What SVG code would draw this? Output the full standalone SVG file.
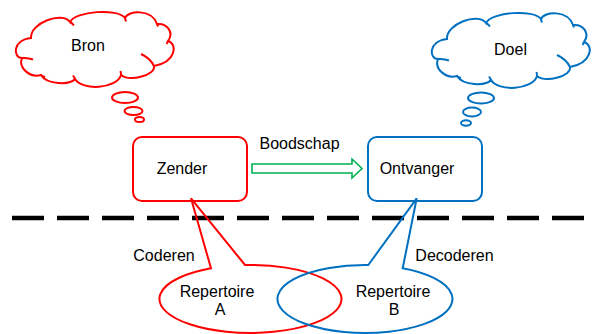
<svg xmlns="http://www.w3.org/2000/svg" width="599" height="334" viewBox="0 0 599 334">
<style>
text{font-family:"Liberation Sans",Arial,sans-serif;font-size:16px;fill:#000;text-anchor:middle}
.r{fill:none;stroke:#FF0000;stroke-width:2}
.b{fill:none;stroke:#0070C0;stroke-width:2}
.rf{fill:#fff;stroke:#FF0000;stroke-width:2}
.bf{fill:#fff;stroke:#0070C0;stroke-width:2}
</style>
<defs>
<path id="cloud" d="M22,58 C13,58 12,40 31,38 C30,23 62,11 70,22 C75,11 118,8 125,18 C128,10 152,9 157,24 C168,23 174,33 168,41 C178,44 176,62 154,66 C156,75 130,82 121,75 C117,89 82,91 75,79 C70,85 47,85 41,75 C30,78 18,68 22,58 Z"/>
<path id="stubs" d="M22,58 Q28,57.5 33,59.5 M70,22 Q72,23 74,25.5 M125,18 Q125.5,20 126,21.5 M157,24 Q157.5,25 158,26.5 M168,41 Q167.5,42.5 166.5,44 M154,66 Q150,58 141,54 M121,75 Q121,73 120.5,71 M75,79 Q74,77 73,75.5 M41,75 Q43,76.5 45,77"/>
</defs>
<g id="bron">
<use href="#cloud" class="rf"/>
<use href="#stubs" class="r"/>
<ellipse cx="125" cy="97.5" rx="13" ry="5.5" class="r"/>
<ellipse cx="133.5" cy="111" rx="9" ry="4" class="r"/>
<ellipse cx="139.5" cy="119.5" rx="4.5" ry="2.5" class="r"/>
<text x="88" y="51">Bron</text>
</g>
<g id="doel">
<g transform="translate(416,1)">
<use href="#cloud" class="bf"/>
<use href="#stubs" class="b"/>
</g>
<ellipse cx="481" cy="98" rx="13" ry="5.5" class="b"/>
<ellipse cx="472" cy="112" rx="9" ry="4.5" class="b"/>
<ellipse cx="466" cy="123" rx="5" ry="2.7" class="b"/>
<text x="510.5" y="55">Doel</text>
</g>
<g id="zender">
<rect x="133" y="137" width="114" height="64" rx="9" class="rf"/>
<text x="182" y="174">Zender</text>
</g>
<g id="ontvanger">
<rect x="368" y="137" width="114" height="64" rx="9" class="bf"/>
<text x="417" y="174">Ontvanger</text>
</g>
<g id="scheiding">
<line x1="12" y1="218" x2="584" y2="218" stroke="#000" stroke-width="4.5" stroke-dasharray="32 13"/>
</g>
<g id="connectors">
<polygon points="252,164 352,164 352,159 362,168.5 352,178 352,173 252,173" fill="#fff" stroke="#00B050" stroke-width="1.6"/>
<text x="299.5" y="149">Boodschap</text>
</g>
<g id="repertoire-a">
<path d="M211,268.3 L191,198.3 L245,265 A91 34 0 1 1 211,268.3 Z" class="r"/>
<text x="164" y="261">Coderen</text>
<text x="217" y="297">Repertoire</text>
<text x="220" y="315">A</text>
</g>
<g id="repertoire-b">
<path d="M368.3,265 L416.7,198.3 L402.7,268.3 A87.5 34 0 1 1 368.3,265 Z" class="b"/>
<text x="454.5" y="261">Decoderen</text>
<text x="393" y="297">Repertoire</text>
<text x="394" y="315">B</text>
</g>
</svg>
